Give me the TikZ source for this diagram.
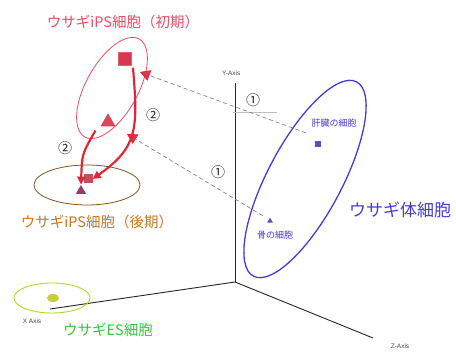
\documentclass[tikz,border=0pt]{standalone}
\usepackage{fontspec}
\newfontfamily\jp{Noto Sans CJK JP}
\newfontfamily\axf{Liberation Sans}
\usetikzlibrary{arrows.meta,shapes.geometric}
\definecolor{iniR}{RGB}{232,78,100}
\definecolor{lateB}{RGB}{195,120,40}
\definecolor{lateE}{RGB}{125,85,40}
\definecolor{esG}{RGB}{60,195,60}
\definecolor{esE}{RGB}{175,220,40}
\definecolor{esDot}{RGB}{200,205,60}
\definecolor{somB}{RGB}{70,60,210}
\definecolor{arrR}{RGB}{222,40,55}
\definecolor{dashG}{RGB}{130,130,150}
\definecolor{mkR}{RGB}{215,55,80}
\definecolor{mkR2}{RGB}{190,80,90}
\definecolor{mkP}{RGB}{150,60,100}
\begin{document}
\begin{tikzpicture}[x=1pt,y=1pt,
  axisline/.style={draw=black!85,line width=0.9pt},
  axislabel/.style={font=\axf\fontsize{6.5}{7}\selectfont,text=black!70,inner sep=0pt},
  bigjp/.style={font=\jp\fontsize{14.5}{16}\selectfont,inner sep=0pt},
  smalljp/.style={font=\jp\fontsize{9}{10}\selectfont,inner sep=0pt,text=somB},
  circnum/.style={font=\jp\fontsize{14}{15}\selectfont,inner sep=0pt,text=black!85},
  sqmark/.style={rectangle,minimum size=#1,inner sep=0pt},
  trimark/.style={isosceles triangle,isosceles triangle apex angle=60,shape border rotate=90,minimum size=#1,inner sep=0pt},
  proj/.style={draw=dashG,line width=0.7pt,dash pattern=on 4pt off 3pt,-{Triangle[length=10pt,width=11pt,color=arrR,fill=mkR]}},
  redarrow/.style={draw=arrR,line width=2.2pt,-{Triangle[length=8pt,width=8pt]}}
]
\useasboundingbox (0,0) rectangle (456,359);
\fill[white] (0,0) rectangle (456,359);
% axes
\coordinate (O) at (235,77);
\coordinate (Ytop) at (235,276);
\coordinate (Xend) at (50,50);
\coordinate (Zend) at (373,21);
\draw[axisline] (O) -- (Ytop);
\draw[axisline] (O) -- (Xend);
\draw[axisline] (O) -- (Zend);
\coordinate (g1) at (233,247);
\coordinate (g2) at (277,247);
\draw[black!25,line width=0.6pt] (g1) -- (g2);
\node[axislabel,anchor=west] (ylab) at (222,286) {Y-Axis};
\node[axislabel] (xlab) at (32,38) {X Axis};
\node[axislabel] (zlab) at (400,13) {Z-Axis};
% ellipses
\draw[somB,line width=1.3pt,rotate around={62:(305,180)}] (305,180) ellipse [x radius=110,y radius=37];
\draw[iniR,line width=0.8pt,rotate around={61:(112,271)}] (112,271) ellipse [x radius=56,y radius=26];
\draw[lateE,line width=0.8pt] (87,174) ellipse [x radius=53,y radius=20];
\draw[esE,line width=0.9pt] (52,61) ellipse [x radius=38,y radius=15];
\fill[esDot] (53,61) ellipse [x radius=6,y radius=4];
% markers
\node[sqmark=13pt,fill=mkR,draw=mkR!70!pink] (sq1) at (125,300) {};
\node[trimark=13pt,fill=mkR!90!pink] (tr1) at (108,237) {};
\node[sqmark=9pt,fill=mkR2] (sq2) at (88,180) {};
\node[trimark=9pt,fill=mkP] (tr2) at (81,168) {};
\node[sqmark=6pt,fill=somB!70!gray] (liver) at (318,215) {};
\node[trimark=5pt,fill=somB!70!gray] (bone) at (270,138) {};
% projection arrows
\coordinate (p1) at (140,287);
\coordinate (p2) at (127,225);
\draw[proj] (liver.north west) ++(-9,8) -- (p1);
\draw[proj] (bone.north west) ++(-6,4) -- (p2);
\node[circnum] (c1a) at (253,259) {①};
\node[circnum] (c1b) at (218,187) {①};
% red arrows
\draw[redarrow] (sq1.south) ++(8,-2) .. controls (138,230) and (138,212) .. (sq2.east);
\draw[redarrow] (tr1.south west) ++(-8,-4) .. controls (82,205) .. (tr2.north);
\node[circnum] (c2a) at (153,244) {②};
\node[circnum] (c2b) at (65,211) {②};
% labels
\node[bigjp,text=iniR] (lab1) at (123,337) {ウサギiPS細胞（初期）};
\node[bigjp,text=lateB] (lab2) at (97,137) {ウサギiPS細胞（後期）};
\node[bigjp,text=esG] (lab3) at (108,29) {ウサギES細胞};
\node[font=\jp\fontsize{17}{18}\selectfont,inner sep=0pt,text=somB] (lab4) at (400,149) {ウサギ体細胞};
\node[smalljp] (lab5) at (334,236) {肝臓の細胞};
\node[smalljp] (lab6) at (275,124) {骨の細胞};
\end{tikzpicture}
\end{document}
